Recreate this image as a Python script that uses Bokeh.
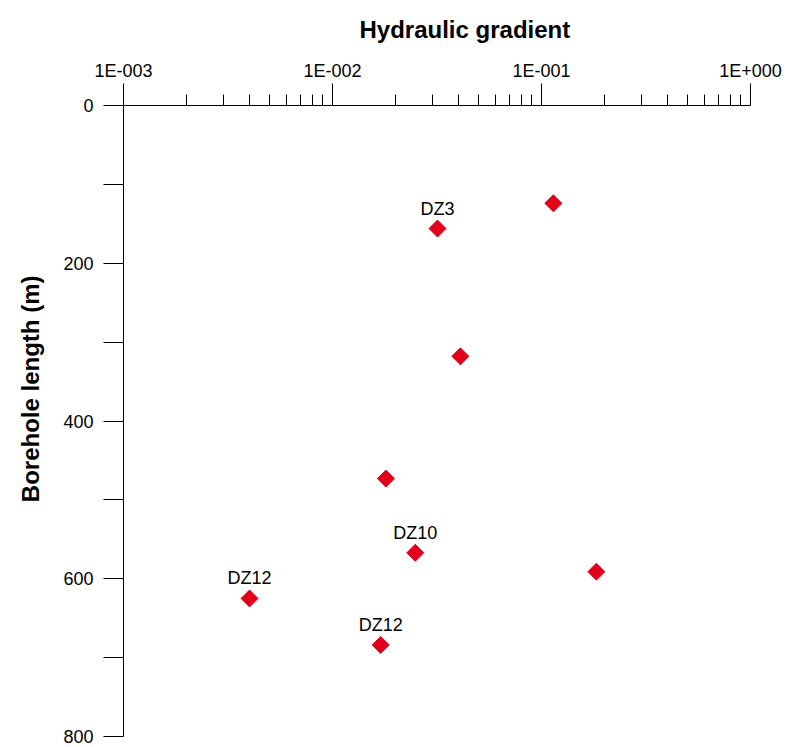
import math
from bokeh.plotting import figure
from bokeh.models import ColumnDataSource, Range1d, FixedTicker, Title
from bokeh.core.properties import value
from bokeh.embed import file_html
from bokeh.resources import INLINE

# ---- data ----
gradient = [0.114, 0.0318, 0.0409, 0.0180, 0.0249, 0.183, 0.00401, 0.0170]
borehole_length = [124, 156, 318, 473, 567, 591, 625, 684]
point_labels = ["", "DZ3", "", "", "DZ10", "", "DZ12", "DZ12"]

x_major_ticks = [0.001, 0.01, 0.1, 1.0]
x_tick_labels = ["1E-003", "1E-002", "1E-001", "1E+000"]
y_ticks = [0, 100, 200, 300, 400, 500, 600, 700, 800]
y_tick_labels = ["0", "", "200", "", "400", "", "600", "", "800"]

x_title = "Hydraulic gradient"
y_title = "Borehole length (m)"

FONT = "Liberation Sans"
RED = "#e3001b"

p = figure(width=785, height=747, output_backend="svg", toolbar_location=None,
           x_axis_type="log", x_axis_location="above",
           x_range=Range1d(0.001, 1.0), y_range=Range1d(800, 0),
           min_border_left=123, min_border_right=35,
           min_border_top=105, min_border_bottom=11)
p.outline_line_color = None
p.xgrid.visible = False
p.ygrid.visible = False

x_minor = [m * d for d in x_major_ticks[:-1] for m in range(2, 10)]

xaxis = p.xaxis[0]
xaxis.ticker = FixedTicker(ticks=x_major_ticks, minor_ticks=x_minor)
xaxis.major_label_overrides = {t: l for t, l in zip(x_major_ticks, x_tick_labels)}
xaxis.major_tick_out = 22
xaxis.major_tick_in = 0
xaxis.minor_tick_out = 11
xaxis.minor_tick_in = 0
xaxis.major_label_standoff = 3
xaxis.major_label_text_font = FONT
xaxis.major_label_text_font_size = "18px"
xaxis.major_label_text_color = "black"
xaxis.axis_line_color = "black"
xaxis.major_tick_line_color = "black"
xaxis.minor_tick_line_color = "black"

yaxis = p.yaxis[0]
yaxis.ticker = FixedTicker(ticks=y_ticks, minor_ticks=[])
yaxis.major_label_overrides = {t: l for t, l in zip(y_ticks, y_tick_labels)}
yaxis.major_tick_out = 20
yaxis.major_tick_in = 0
yaxis.major_label_standoff = 10
yaxis.major_label_text_font = FONT
yaxis.major_label_text_font_size = "18px"
yaxis.major_label_text_color = "black"
yaxis.axis_line_color = "black"
yaxis.major_tick_line_color = "black"

p.add_layout(Title(text=x_title, align="left", offset=236, standoff=25,
                   vertical_align="top",
                   text_font=FONT, text_font_style="bold",
                   text_font_size="24px", text_color="black"), "above")
p.add_layout(Title(text=y_title, align="right", offset=170, standoff=29,
                   vertical_align="top",
                   text_font=FONT, text_font_style="bold",
                   text_font_size="24px", text_color="black"), "left")

src = ColumnDataSource(dict(x=gradient, y=borehole_length, label=point_labels))
p.scatter("x", "y", source=src, marker="square", size=12, angle=math.pi / 4,
          fill_color=RED, line_color=RED)
p.text("x", "y", text="label", source=src, text_align="center",
       text_baseline="bottom", y_offset=-10, text_font=value(FONT),
       text_font_size="18px", text_color="black")

open("out.html", "w").write(file_html(p, INLINE))
